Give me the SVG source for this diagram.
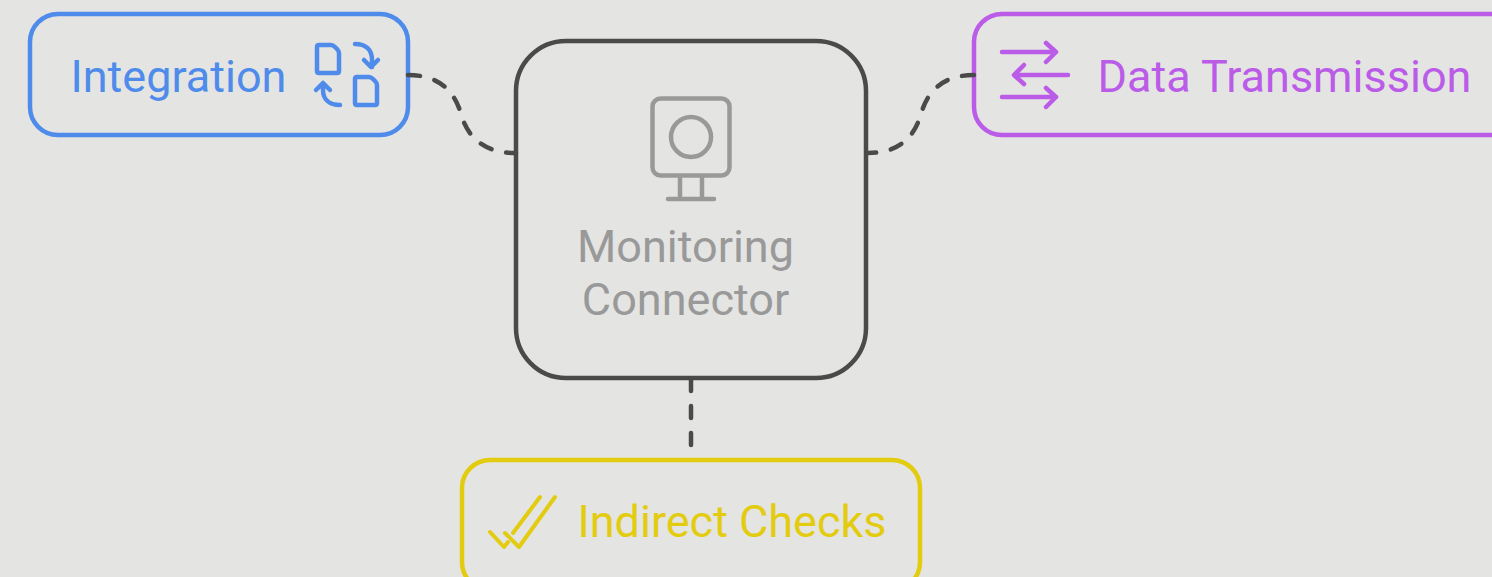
<svg xmlns="http://www.w3.org/2000/svg" width="1492" height="577" viewBox="0 0 1492 577">
<style>
.box{fill:none;stroke-width:4.5}
.ic{fill:none;stroke-width:4.5;stroke-linecap:round;stroke-linejoin:round}
.t{font-family:Roboto,"Liberation Sans",sans-serif;font-size:45px}
.c{fill:none;stroke:#4a4a4a;stroke-width:4.5;stroke-linecap:round;stroke-dasharray:12 15}
.blue{stroke:#4f8bea}.purple{stroke:#bb5ce8}.yellow{stroke:#e3cc10}.gray{stroke:#999}
</style>
<rect width="1492" height="577" fill="#e4e4e2"/>
<g id="integration">
<rect class="box blue" x="30" y="14" width="378" height="121" rx="28"/>
<text class="t" x="70.5" y="92" fill="#4f8bea">Integration</text>
<g class="ic blue">
<path d="M320 45H331Q333 45 335 47L337 49Q339 51 339 53V71Q339 73 337 73H319Q317 73 317 71V47Q317 45 319 45Z"/>
<path d="M358 77H369Q371 77 373 79L375 81Q377 83 377 85V103Q377 105 375 105H357Q355 105 355 103V79Q355 77 357 77Z"/>
<path d="M355 44C366 44 372 50 372 60V67M364 60L371 67L378 60"/>
<path d="M340 105C329 105 323 99 323 90V83M316 90L323 83L330 90"/>
</g>
</g>
<g id="monitoring">
<rect class="box" stroke="#4a4a4a" x="516" y="41" width="350" height="337" rx="50"/>
<g class="ic gray">
<rect x="652.5" y="98.500" width="77" height="77" rx="8"/>
<circle cx="691" cy="137" r="20"/>
<path d="M680 177V199M702 177V199M668 199H714"/>
</g>
<text class="t" x="685.500" y="261.500" text-anchor="middle" fill="#999">Monitoring</text>
<text class="t" x="685.500" y="315" text-anchor="middle" fill="#999">Connector</text>
</g>
<g id="data-transmission">
<rect class="box purple" x="974" y="14" width="560" height="121" rx="28"/>
<g class="ic purple">
<path d="M1002 52H1056M1046 43L1056 52L1046 62"/>
<path d="M1068 75H1014M1024 65L1014 75L1024 84"/>
<path d="M1002 97H1056M1046 88L1056 97L1046 107"/>
</g>
<text class="t" x="1097.500" y="92" fill="#bb5ce8">Data Transmission</text>
</g>
<g id="indirect-checks">
<rect class="box yellow" x="462" y="460" width="458" height="130" rx="28"/>
<g class="ic yellow" style="stroke-width:4">
<path d="M490 532L504 547L508 542M505 533L519 547L555 497M513 533L540 497"/>
</g>
<text class="t" x="577.500" y="537" fill="#e3cc10">Indirect Checks</text>
</g>
<g id="connectors">
<path class="c" d="M408 75Q450 75 461 114Q472 153 516 153"/>
<path class="c" d="M974 75Q932 75 921 114Q910 153 868 153"/>
<path class="c" d="M691 379V445"/>
</g>
</svg>
